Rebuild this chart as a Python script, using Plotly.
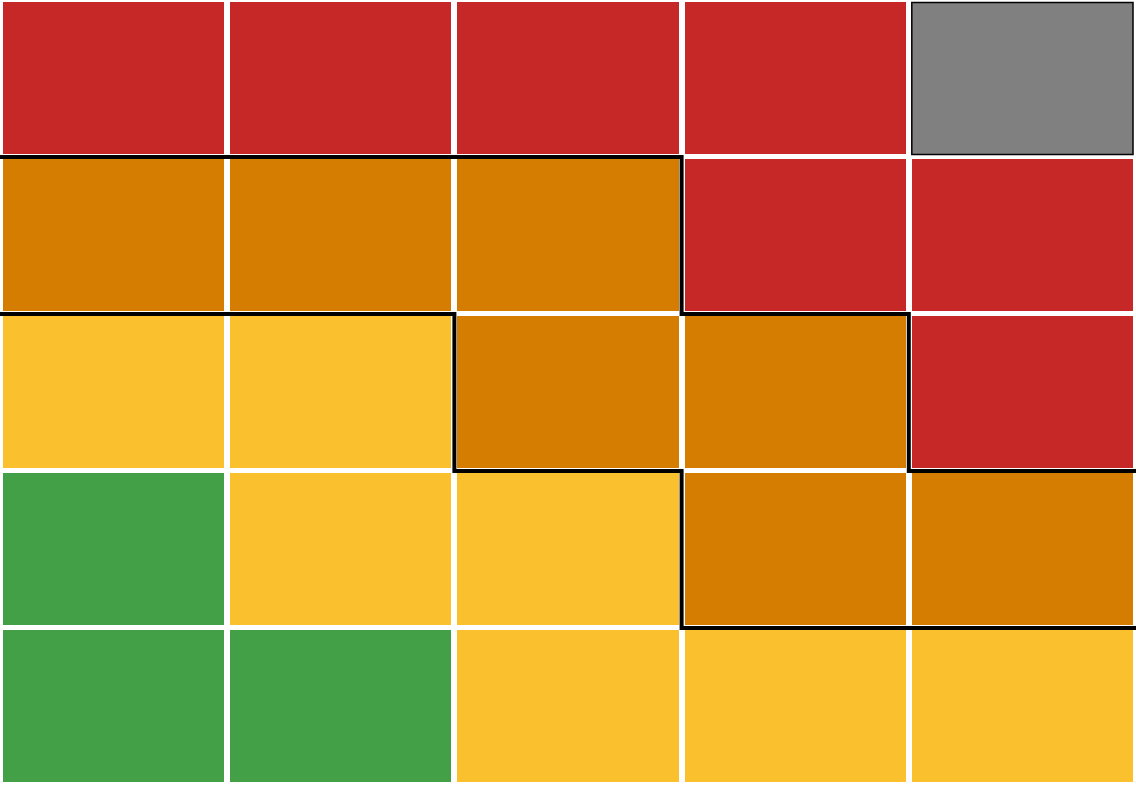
import plotly.graph_objects as go

# Risk matrix: rows listed top to bottom, columns left to right
# codes: 0 green, 1 yellow, 2 orange, 3 red, 4 grey (not applicable)
columns = [1, 2, 3, 4, 5]
rows_top_to_bottom = [5, 4, 3, 2, 1]
matrix_codes = [
    [3, 3, 3, 3, 4],
    [2, 2, 2, 3, 3],
    [1, 1, 2, 2, 3],
    [0, 1, 1, 2, 2],
    [0, 0, 1, 1, 1],
]
# Row index (from bottom, 0-based) above which each boundary lies, per column
red_boundary = [3, 3, 3, 2, 1]      # red region starts above this row
orange_boundary = [2, 2, 1, 0, 0]   # orange region starts above this row
grey_cell = (4, 4)                  # (column index, row index from bottom)

colors = ["#43A047", "#FBC02D", "#D47D00", "#C62828", "#808080"]

W, H = 1136, 788
MB = 3
ncol, nrow = len(columns), len(rows_top_to_bottom)
xgap, ygap = 6, 5

# z ordered bottom to top for the heatmap
z = [row for row in reversed(matrix_codes)]

colorscale = []
n = len(colors)
for i, c in enumerate(colors):
    colorscale.append([i / n, c])
    colorscale.append([(i + 1) / n, c])

fig = go.Figure()
fig.add_trace(go.Heatmap(
    z=z,
    x=list(range(ncol)),
    y=list(range(nrow)),
    zmin=0, zmax=n,
    colorscale=colorscale,
    showscale=False,
    xgap=xgap, ygap=ygap,
    hoverinfo="skip",
))


def step_line(boundary):
    xs, ys = [], []
    for i, b in enumerate(boundary):
        xs += [i - 0.5, i + 0.5]
        ys += [b + 0.5, b + 0.5]
    return xs, ys


for b in (red_boundary, orange_boundary):
    xs, ys = step_line(b)
    fig.add_trace(go.Scatter(
        x=xs, y=ys, mode="lines",
        line=dict(color="black", width=4),
        hoverinfo="skip", showlegend=False, cliponaxis=False,
    ))

# thin border around the grey cell
cw = W / ncol
ch = (H - MB) / nrow
hx = 0.5 - (xgap / 2) / cw
hy = 0.5 - (ygap / 2) / ch
gx, gy = grey_cell
fig.add_shape(type="rect", xref="x", yref="y",
              x0=gx - hx, x1=gx + hx, y0=gy - hy, y1=gy + hy,
              line=dict(color="black", width=1.5), fillcolor="rgba(0,0,0,0)")

fig.update_layout(
    width=W, height=H,
    margin=dict(l=0, r=0, t=0, b=MB),
    paper_bgcolor="white", plot_bgcolor="white",
    showlegend=False,
    xaxis=dict(range=[-0.5, ncol - 0.5], visible=False, fixedrange=True),
    yaxis=dict(range=[-0.5, nrow - 0.5], visible=False, fixedrange=True),
)

fig.write_html("out.html", config={"displayModeBar": False})
